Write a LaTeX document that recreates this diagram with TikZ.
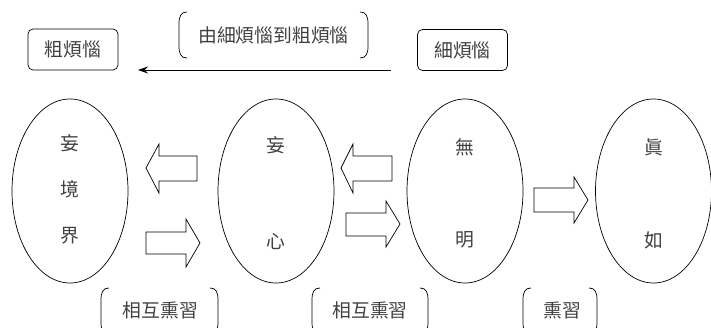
\documentclass[tikz,border=0pt]{standalone}
\usepackage{fontspec}
\newfontfamily\cjk{Noto Sans CJK TC}
\usetikzlibrary{shapes.geometric,arrows.meta}
\begin{document}
\begin{tikzpicture}[x=1pt,y=-1pt,
  every node/.style={font=\cjk\fontsize{18.8}{18.8}\selectfont, text=black!75},
  oval/.style={draw, ellipse, minimum width=116pt, minimum height=184pt, inner sep=0pt, line width=0.7pt},
  chip/.style={draw, rounded corners=5pt, minimum width=90pt, minimum height=41pt, inner sep=0pt, line width=0.7pt},
  word/.style={inner sep=0pt},
  barrow/.style={draw, line width=0.7pt, line join=miter},
  brk/.style={line width=0.7pt}]
\useasboundingbox (0,0) rectangle (711,328);

% ellipses
\node[oval] (e1) at (70,191) {};
\node[oval] (e2) at (276,191) {};
\node[oval] (e3) at (465,191) {};
\node[oval] (e4) at (653.5,191) {};

% texts in ellipses
\node[word] (e1a) at (70,143) {妄};
\node[word] (e1b) at (70,189) {境};
\node[word] (e1c) at (70,236) {界};
\node[word] (e2a) at (276,145) {妄};
\node[word] (e2b) at (276,242) {心};
\node[word] (e3a) at (465,147) {無};
\node[word] (e3b) at (465,240) {明};
\node[word] (e4a) at (653.5,147) {眞};
\node[word] (e4b) at (653.5,240) {如};

% block arrows
\draw[barrow] (197,156) -- (159,156) -- (159,144) -- (146,168) -- (159,193) -- (159,181) -- (197,181) -- cycle;
\draw[barrow] (146,232) -- (186,232) -- (186,219) -- (200,243) -- (186,267) -- (186,254) -- (146,254) -- cycle;
\draw[barrow] (392,156) -- (353,156) -- (353,144) -- (341,168) -- (353,193) -- (353,181) -- (392,181) -- cycle;
\draw[barrow] (346,213) -- (386,213) -- (386,201) -- (400,224) -- (386,247) -- (386,236) -- (346,236) -- cycle;
\draw[barrow] (534,188) -- (574,188) -- (574,177) -- (588,200) -- (574,223) -- (574,212) -- (534,212) -- cycle;

% top boxes
\node[chip] (cu) at (73,49.5) {粗煩惱};
\node[chip] (xi) at (462.5,50) {細煩惱};
\coordinate (astart) at (391,70);
\coordinate (aend) at (138,70);
\draw[line width=0.7pt, -{Stealth[length=10pt,width=7pt]}] (astart) -- (aend);

% top bracket label
\node[word] (top) at (273.5,35) {由細煩惱到粗煩惱};
\draw[brk] (187,12) .. controls (181,12) and (179,16) .. (179,24) -- (179,46) .. controls (179,54) and (181,58) .. (187,58);
\draw[brk] (360,12) .. controls (366,12) and (368,16) .. (368,24) -- (368,46) .. controls (368,54) and (366,58) .. (360,58);

% bottom bracket labels
\node[word] (m1) at (160.5,310) {相互熏習};
\draw[brk] (109,288) .. controls (103,288) and (101,292) .. (101,300) -- (101,322) .. controls (101,330) and (103,334) .. (109,334);
\draw[brk] (210,288) .. controls (216,288) and (218,292) .. (218,300) -- (218,322) .. controls (218,330) and (216,334) .. (210,334);

\node[word] (m2) at (370,310) {相互熏習};
\draw[brk] (320,288) .. controls (314,288) and (312,292) .. (312,300) -- (312,322) .. controls (312,330) and (314,334) .. (320,334);
\draw[brk] (420,288) .. controls (426,288) and (428,292) .. (428,300) -- (428,322) .. controls (428,330) and (426,334) .. (420,334);

\node[word] (m3) at (562,310) {熏習};
\draw[brk] (531,288) .. controls (525,288) and (523,292) .. (523,300) -- (523,322) .. controls (523,330) and (525,334) .. (531,334);
\draw[brk] (589,288) .. controls (595,288) and (597,292) .. (597,300) -- (597,322) .. controls (597,330) and (595,334) .. (589,334);
\end{tikzpicture}
\end{document}
